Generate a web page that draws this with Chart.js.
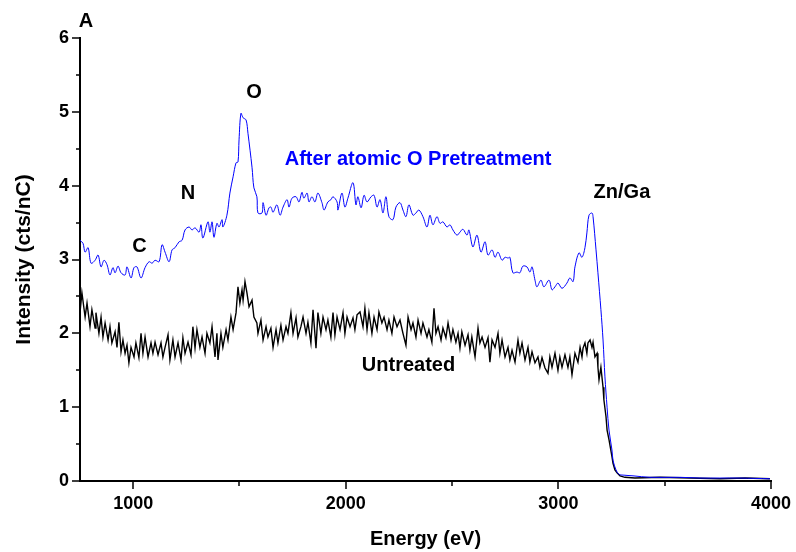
<!DOCTYPE html>
<html>
<head>
<meta charset="utf-8">
<title>Energy spectrum</title>
<script src="https://cdn.jsdelivr.net/npm/chart.js@4.4.1/dist/chart.umd.min.js"></script>
<style>
  body { margin: 0; background: #ffffff; }
  canvas { display: block; }
</style>
</head>
<body>
<canvas id="spectrumCanvas" width="796" height="552"></canvas>
<script>
// After atomic O pretreatment (eV, cts/nC)
var treatedEnergy = [
  750, 764, 774, 788, 802, 821, 835, 849, 863, 877, 891, 905, 915, 929, 943, 962, 971, 990,
  1004, 1018, 1037, 1056, 1075, 1089, 1103, 1122, 1136, 1150, 1169, 1183, 1197, 1216, 1230,
  1244, 1263, 1277, 1291, 1310, 1319, 1328, 1352, 1361, 1371, 1380, 1394, 1404, 1418, 1422,
  1441, 1455, 1470, 1484, 1493, 1498, 1507, 1517, 1531, 1540, 1559, 1568, 1582, 1587, 1606,
  1611, 1625, 1639, 1648, 1658, 1676, 1691, 1705, 1724, 1733, 1747, 1766, 1780, 1794, 1803,
  1818, 1827, 1841, 1855, 1869, 1888, 1898, 1916, 1930, 1940, 1959, 1963, 1982, 1996, 2010,
  2034, 2048, 2057, 2072, 2086, 2100, 2119, 2133, 2147, 2161, 2175, 2189, 2203, 2222, 2236,
  2255, 2269, 2283, 2297, 2316, 2330, 2344, 2363, 2382, 2396, 2410, 2429, 2443, 2457, 2476,
  2490, 2504, 2523, 2537, 2551, 2570, 2579, 2598, 2617, 2636, 2655, 2669, 2688, 2702, 2716,
  2735, 2749, 2763, 2772, 2786, 2805, 2819, 2833, 2852, 2866, 2876, 2890, 2899, 2918, 2932,
  2956, 2970, 2984, 2998, 3017, 3040, 3054, 3069, 3078, 3097, 3111, 3125, 3134, 3144, 3158,
  3163, 3177, 3186, 3200, 3210, 3219, 3229, 3238, 3252, 3257, 3271, 3285, 3304, 3351, 3431,
  3572, 3666, 3854, 3995
];
var treatedCounts = [
  3.26, 3.22, 3.10, 3.16, 2.95, 2.99, 3.06, 2.90, 2.99, 2.93, 2.79, 2.89, 2.82, 2.91, 2.82, 2.79, 2.90, 2.75,
  2.89, 2.90, 2.75, 2.89, 2.97, 2.95, 2.99, 2.97, 3.20, 3.10, 2.97, 3.13, 3.16, 3.24, 3.26,
  3.40, 3.44, 3.40, 3.43, 3.37, 3.47, 3.29, 3.51, 3.37, 3.51, 3.30, 3.49, 3.44, 3.54, 3.44,
  3.60, 3.90, 4.12, 4.31, 4.32, 4.62, 4.98, 4.92, 4.89, 4.71, 4.25, 3.97, 3.85, 3.63, 3.63,
  3.77, 3.60, 3.70, 3.71, 3.64, 3.74, 3.60, 3.71, 3.81, 3.71, 3.83, 3.85, 3.78, 3.91, 3.83,
  3.90, 3.78, 3.85, 3.78, 3.90, 3.77, 3.67, 3.78, 3.81, 3.85, 3.78, 3.67, 3.90, 3.71, 3.83,
  4.04, 3.74, 3.85, 3.70, 3.87, 3.78, 3.85, 3.87, 3.71, 3.81, 3.63, 3.85, 3.58, 3.54, 3.71,
  3.77, 3.67, 3.58, 3.74, 3.60, 3.63, 3.67, 3.58, 3.44, 3.60, 3.47, 3.58, 3.49, 3.51, 3.44,
  3.47, 3.40, 3.33, 3.37, 3.41, 3.33, 3.40, 3.17, 3.33, 3.10, 3.24, 3.06, 3.13, 3.03, 3.10,
  2.99, 3.03, 3.02, 3.03, 2.82, 2.83, 2.82, 2.91, 2.90, 2.83, 2.90, 2.72, 2.63, 2.72, 2.63,
  2.72, 2.59, 2.63, 2.68, 2.61, 2.68, 2.75, 2.70, 2.90, 3.09, 3.03, 3.16, 3.36, 3.60, 3.63,
  3.58, 3.13, 2.82, 2.32, 1.91, 1.41, 1.00, 0.69, 0.42, 0.28, 0.15, 0.09, 0.08, 0.07, 0.05,
  0.05, 0.04, 0.04, 0.03
];

// Untreated sample (eV, cts/nC)
var untreatedEnergy = [
  750, 759, 774, 783, 797, 806, 821, 825, 839, 849, 858, 868, 882, 891, 900, 915, 924, 933,
  943, 952, 962, 971, 980, 990, 1004, 1013, 1027, 1037, 1046, 1056, 1070, 1084, 1093, 1103,
  1117, 1131, 1140, 1150, 1164, 1173, 1187, 1197, 1211, 1225, 1234, 1244, 1258, 1272, 1281,
  1291, 1300, 1314, 1324, 1338, 1347, 1361, 1371, 1385, 1394, 1399, 1413, 1422, 1437, 1446,
  1460, 1470, 1484, 1493, 1502, 1512, 1517, 1526, 1535, 1545, 1559, 1568, 1582, 1587, 1601,
  1611, 1625, 1634, 1648, 1658, 1672, 1681, 1695, 1705, 1719, 1728, 1742, 1752, 1766, 1775,
  1789, 1799, 1813, 1822, 1836, 1846, 1860, 1869, 1883, 1893, 1907, 1916, 1930, 1940, 1949,
  1959, 1973, 1987, 1996, 2006, 2020, 2034, 2043, 2053, 2067, 2081, 2090, 2100, 2109, 2123,
  2133, 2147, 2156, 2170, 2180, 2194, 2203, 2217, 2227, 2241, 2255, 2269, 2283, 2293, 2307,
  2316, 2330, 2340, 2354, 2363, 2382, 2391, 2405, 2415, 2424, 2434, 2448, 2457, 2471, 2481,
  2495, 2504, 2518, 2528, 2537, 2546, 2561, 2575, 2584, 2593, 2608, 2622, 2631, 2641, 2655,
  2669, 2678, 2688, 2702, 2716, 2725, 2735, 2749, 2763, 2772, 2782, 2796, 2810, 2819, 2829,
  2843, 2857, 2866, 2876, 2890, 2904, 2913, 2923, 2937, 2951, 2960, 2970, 2984, 2998, 3007,
  3017, 3031, 3045, 3054, 3064, 3078, 3092, 3102, 3111, 3116, 3125, 3134, 3139, 3149, 3158,
  3163, 3172, 3182, 3186, 3191, 3200, 3210, 3214, 3224, 3229, 3238, 3252, 3257, 3266, 3276,
  3290, 3313, 3360, 3478, 3619, 3760, 3878, 3995
];
var untreatedCounts = [
  2.28, 2.55, 2.22, 2.41, 2.09, 2.32, 2.07, 2.28, 2.00, 2.22, 1.95, 2.14, 1.91, 2.09, 1.87, 2.02, 1.81, 2.15,
  1.75, 1.91, 1.73, 1.84, 1.60, 1.81, 1.68, 1.87, 1.67, 2.00, 1.73, 1.95, 1.68, 1.87, 1.73, 1.88,
  1.71, 1.87, 1.68, 1.81, 1.98, 1.64, 1.91, 1.68, 1.87, 1.64, 1.94, 1.73, 1.88, 1.71, 2.09,
  1.80, 2.05, 1.81, 1.95, 1.73, 2.00, 1.87, 2.09, 1.68, 2.00, 1.64, 2.00, 1.81, 2.05, 1.91,
  2.22, 2.05, 2.28, 2.63, 2.41, 2.59, 2.45, 2.70, 2.55, 2.36, 2.45, 2.22, 2.14, 2.00, 2.18,
  1.91, 2.09, 1.95, 2.07, 1.81, 2.05, 1.87, 2.11, 1.91, 2.09, 2.00, 2.28, 2.00, 2.21, 1.95,
  2.09, 2.22, 2.00, 2.15, 1.87, 2.32, 1.80, 2.28, 2.00, 2.22, 2.05, 2.18, 1.95, 2.28, 1.98,
  2.22, 2.05, 2.28, 2.00, 2.22, 2.09, 2.21, 2.05, 2.25, 2.29, 2.09, 2.34, 2.05, 2.28, 2.00,
  2.22, 2.05, 2.29, 2.14, 2.22, 2.05, 2.18, 2.00, 2.22, 2.09, 2.18, 2.00, 1.84, 2.22, 2.05,
  2.14, 1.95, 2.18, 2.00, 2.14, 1.95, 2.05, 1.88, 2.34, 2.00, 2.09, 1.91, 2.07, 1.94, 2.14,
  1.91, 2.05, 1.88, 2.00, 1.80, 2.02, 1.84, 1.98, 1.77, 1.95, 1.68, 2.07, 1.87, 1.95, 1.81,
  1.94, 1.61, 1.91, 1.81, 2.00, 1.73, 1.91, 1.68, 1.81, 1.64, 1.77, 1.61, 1.91, 1.73, 1.87,
  1.64, 1.81, 1.61, 1.75, 1.60, 1.68, 1.54, 1.67, 1.53, 1.46, 1.68, 1.54, 1.73, 1.50, 1.68,
  1.54, 1.71, 1.54, 1.68, 1.44, 1.73, 1.61, 1.81, 1.68, 1.80, 1.87, 1.73, 1.87, 1.91, 1.81,
  1.88, 1.68, 1.73, 1.54, 1.37, 1.54, 1.27, 1.10, 0.87, 0.69, 0.56, 0.33, 0.24, 0.15, 0.11,
  0.07, 0.05, 0.04, 0.05, 0.04, 0.03, 0.04, 0.03
];

var energyTicks = [1000, 2000, 3000, 4000];
var intensityTicks = [0, 1, 2, 3, 4, 5, 6];

// text placed on the plot, anchored in data units
var plotNotes = [
  { text: "A", x: 778, y: 6.22, color: "#000000" },
  { text: "O", x: 1568, y: 5.26, color: "#000000" },
  { text: "N", x: 1258, y: 3.90, color: "#000000" },
  { text: "C", x: 1030, y: 3.17, color: "#000000" },
  { text: "Zn/Ga", x: 3299, y: 3.91, color: "#000000" },
  { text: "After atomic O Pretreatment", x: 2340, y: 4.36, color: "#0000ff" },
  { text: "Untreated", x: 2295, y: 1.57, color: "#000000" }
];

var fontFamily = "'Liberation Sans', Arial, Helvetica, sans-serif";

function toPoints(xs, ys) {
  return xs.map(function (x, i) {
    return { x: x, y: ys[i] };
  });
}

// outward major and minor tick marks plus the annotations
var axisDecor = {
  id: "axisDecor",
  afterDraw: function (chart) {
    var ctx = chart.ctx;
    var xScale = chart.scales.x;
    var yScale = chart.scales.y;
    var area = chart.chartArea;

    ctx.save();
    ctx.strokeStyle = "#000000";
    ctx.lineWidth = 1.5;
    ctx.beginPath();
    for (var e = 1000; e <= 4000; e += 500) {
      var px = Math.round(xScale.getPixelForValue(e));
      var len = e % 1000 === 0 ? 8 : 5;
      ctx.moveTo(px, area.bottom);
      ctx.lineTo(px, area.bottom + len);
    }
    for (var v = 0; v <= 6; v += 0.5) {
      var py = Math.round(yScale.getPixelForValue(v));
      var tl = v % 1 === 0 ? 8 : 4;
      ctx.moveTo(area.left, py);
      ctx.lineTo(area.left - tl, py);
    }
    ctx.stroke();

    ctx.font = "bold 20px " + fontFamily;
    ctx.textAlign = "center";
    ctx.textBaseline = "middle";
    plotNotes.forEach(function (note) {
      ctx.fillStyle = note.color;
      ctx.fillText(note.text, xScale.getPixelForValue(note.x), yScale.getPixelForValue(note.y));
    });
    ctx.restore();
  }
};

var ctx = document.getElementById("spectrumCanvas").getContext("2d");

var spectrumChart = new Chart(ctx, {
  type: "line",
  data: {
    datasets: [
      {
        label: "After atomic O Pretreatment",
        data: toPoints(treatedEnergy, treatedCounts),
        borderColor: "#0000ff",
        borderWidth: 1,
        pointRadius: 0,
        tension: 0.35,
        fill: false
      },
      {
        label: "Untreated",
        data: toPoints(untreatedEnergy, untreatedCounts),
        borderColor: "#000000",
        borderWidth: 1.4,
        pointRadius: 0,
        tension: 0,
        fill: false
      }
    ]
  },
  options: {
    responsive: false,
    animation: false,
    layout: {
      padding: { top: 38, right: 25, bottom: 0, left: 0 }
    },
    plugins: {
      legend: { display: false },
      tooltip: { enabled: false }
    },
    scales: {
      x: {
        type: "linear",
        min: 750,
        max: 4000,
        afterBuildTicks: function (scale) {
          scale.ticks = energyTicks.map(function (v) { return { value: v }; });
        },
        afterFit: function (scale) {
          scale.height = 71;
          scale.paddingLeft = 0;
          scale.paddingRight = 25;
        },
        grid: { display: false, drawTicks: false, tickLength: 0 },
        border: { display: true, color: "#000000", width: 2 },
        ticks: {
          padding: 12,
          maxRotation: 0,
          color: "#000000",
          font: { family: fontFamily, size: 18, weight: "bold" },
          callback: function (value) { return String(value); }
        },
        title: {
          display: true,
          text: "Energy (eV)",
          color: "#000000",
          padding: { top: 0, bottom: 1 },
          font: { family: fontFamily, size: 20, weight: "bold" }
        }
      },
      y: {
        type: "linear",
        min: 0,
        max: 6,
        afterBuildTicks: function (scale) {
          scale.ticks = intensityTicks.map(function (v) { return { value: v }; });
        },
        afterFit: function (scale) {
          scale.width = 80;
        },
        grid: { display: false, drawTicks: false, tickLength: 0 },
        border: { display: true, color: "#000000", width: 2 },
        ticks: {
          padding: 11,
          color: "#000000",
          font: { family: fontFamily, size: 18, weight: "bold" },
          callback: function (value) { return String(value); }
        },
        title: {
          display: true,
          text: "Intensity (cts/nC)",
          color: "#000000",
          padding: { top: 12, bottom: 0 },
          font: { family: fontFamily, size: 21, weight: "bold" }
        }
      }
    }
  },
  plugins: [axisDecor]
});
</script>
</body>
</html>
